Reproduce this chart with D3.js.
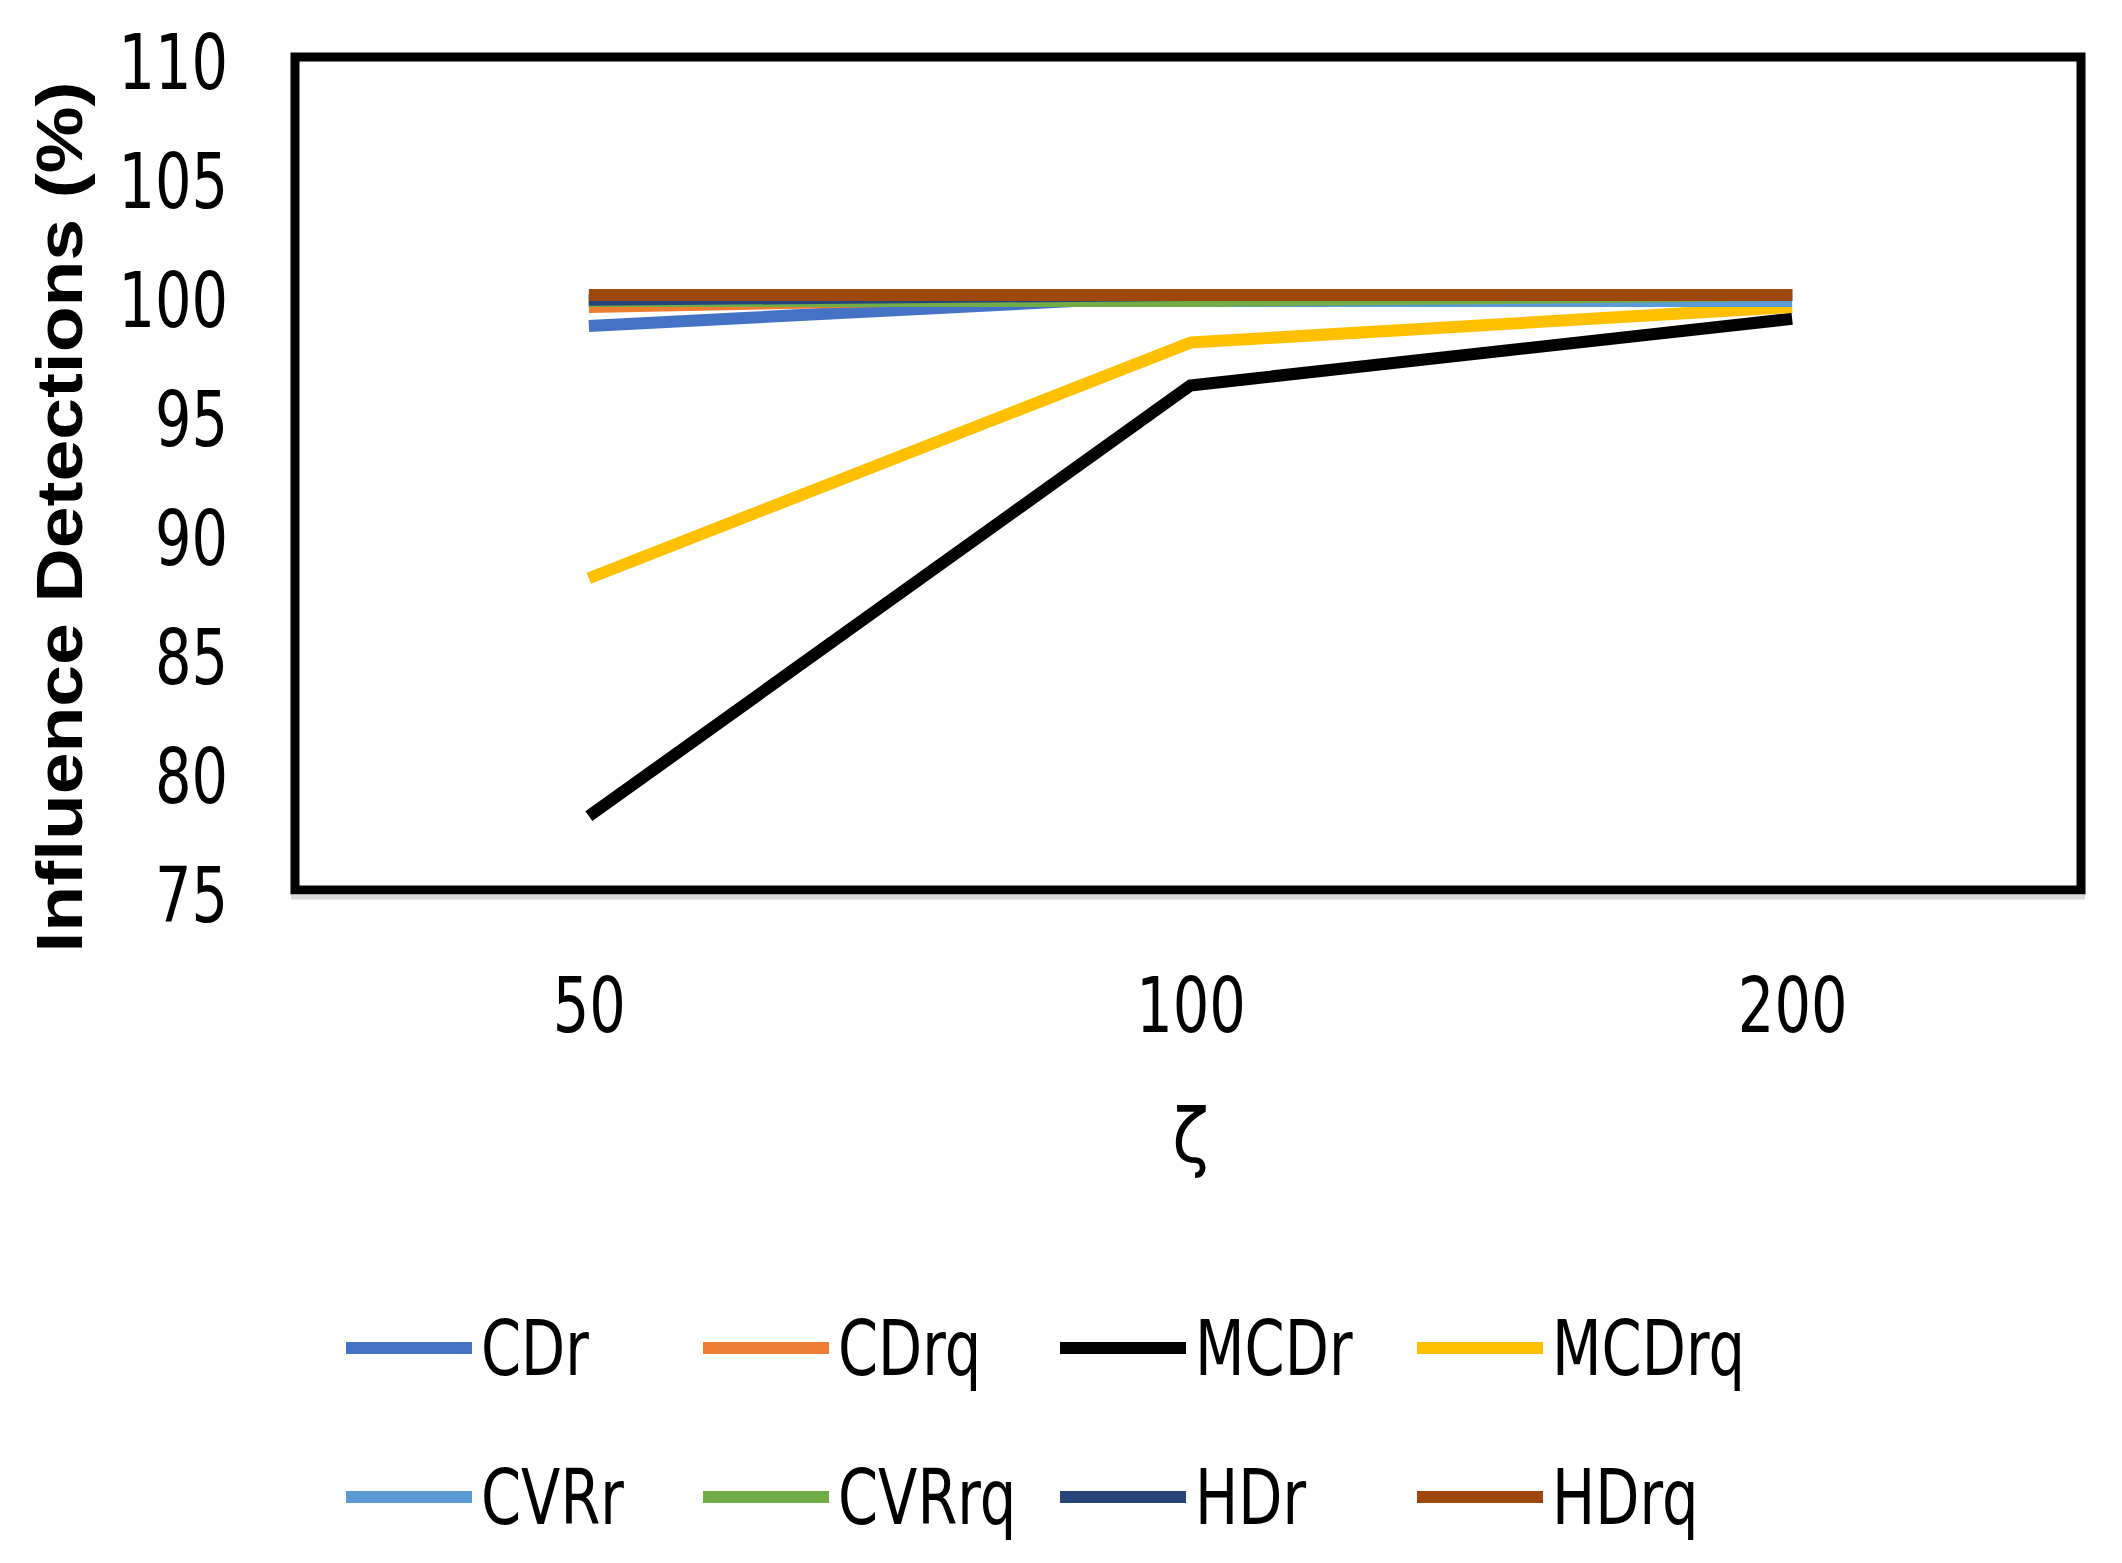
<!DOCTYPE html>
<html>
<head>
<meta charset="utf-8">
<title>Influence Detections</title>
<script src="https://d3js.org/d3.v7.min.js"></script>
<style>
    body { margin: 0; background: #fff; }
    .tick text, .legend text, .xtitle {
        font-family: "Liberation Sans Narrow", "DejaVu Sans Condensed", "Liberation Sans", sans-serif;
        fill: #000;
    }
    .ytitle {
        font-family: "Liberation Sans", Arial, sans-serif;
        font-weight: bold;
        fill: #000;
    }
    .line { fill: none; stroke-linecap: butt; stroke-linejoin: round; }
</style>
</head>
<body>
<script>
    var width = 2122, height = 1563;

    // data
    var categories = ["50", "100", "200"];
    var seriesNames = ["CDr", "CDrq", "MCDr", "MCDrq", "CVRr", "CVRrq", "HDr", "HDrq"];
    var CDr   = [98.7, 100, 100];
    var CDrq  = [99.5, 100, 100];
    var MCDr  = [78.1, 96.2, 99.0];
    var MCDrq = [88.1, 98.0, 99.5];
    var CVRr  = [99.75, 99.75, 99.75];
    var CVRrq = [99.75, 99.75, 100];
    var HDr   = [99.8, 100, 100];
    var HDrq  = [100, 100, 100];
    var yTicks = [75, 80, 85, 90, 95, 100, 105, 110];

    var seriesValues = [CDr, CDrq, MCDr, MCDrq, CVRr, CVRrq, HDr, HDrq];
    var colors = ["#4472C4", "#ED7D31", "#000000", "#FFC000", "#5B9BD5", "#70AD47", "#264478", "#9E480E"];

    var plot = { left: 295, right: 2081, top: 57, bottom: 890 };
    var narrow = 0.84;   // the picture's text is squeezed sideways

    var svg = d3.select("body").append("svg")
        .attr("width", width)
        .attr("height", height);

    var x = d3.scalePoint()
        .domain(categories)
        .range([288, 2093])
        .padding(0.5);

    var y = d3.scaleLinear()
        .domain([75, 110])
        .range([plot.bottom, plot.top]);

    function squeeze(sel) {
        sel.each(function() {
            var w = this.getComputedTextLength();
            d3.select(this)
                .attr("textLength", w * narrow)
                .attr("lengthAdjust", "spacingAndGlyphs");
        });
    }

    // series lines
    var line = d3.line()
        .x(function(d, i) { return x(categories[i]); })
        .y(function(d) { return y(d); });

    svg.selectAll(".line")
        .data(seriesValues)
        .enter().append("path")
        .attr("class", "line")
        .attr("d", line)
        .attr("stroke", function(d, i) { return colors[i]; })
        .attr("stroke-width", 12);

    // frame round the plot
    svg.append("rect")
        .attr("x", plot.left)
        .attr("y", y(110))
        .attr("width", plot.right - plot.left)
        .attr("height", y(75) - y(110))
        .attr("fill", "none")
        .attr("stroke", "#000")
        .attr("stroke-width", 9);
    svg.append("line")
        .attr("x1", plot.left - 4).attr("x2", plot.right + 4)
        .attr("y1", plot.bottom + 7).attr("y2", plot.bottom + 7)
        .attr("stroke", "#d9d9d9").attr("stroke-width", 5);

    // y axis
    var yAxis = svg.append("g")
        .attr("transform", "translate(" + plot.left + ",0)")
        .call(d3.axisLeft(y).tickValues(yTicks).tickSize(0).tickPadding(67));
    yAxis.select(".domain").remove();
    yAxis.selectAll("text")
        .attr("dy", "0.42em")
        .style("font-size", "76px")
        .call(squeeze);

    // x axis
    var xAxis = svg.append("g")
        .attr("transform", "translate(0," + plot.bottom + ")")
        .call(d3.axisBottom(x).tickSize(0).tickPadding(88));
    xAxis.select(".domain").remove();
    xAxis.selectAll("text")
        .style("font-size", "76px")
        .call(squeeze);

    // axis titles
    svg.append("text")
        .attr("class", "ytitle")
        .attr("transform", "translate(82,517) rotate(-90)")
        .attr("text-anchor", "middle")
        .attr("textLength", 871)
        .attr("lengthAdjust", "spacingAndGlyphs")
        .style("font-size", "64px")
        .text("Influence Detections (%)");

    svg.append("text")
        .attr("class", "xtitle")
        .attr("x", x("100"))
        .attr("y", 1162)
        .attr("text-anchor", "middle")
        .style("font-size", "75px")
        .text("ζ");

    // legend, two rows of four
    var legend = svg.append("g").attr("class", "legend");
    var item = legend.selectAll("g")
        .data(seriesNames)
        .enter().append("g")
        .attr("transform", function(d, i) {
            return "translate(" + (346 + (i % 4) * 357) + "," + (i < 4 ? 1348 : 1497) + ")";
        });
    item.append("line")
        .attr("x1", 0).attr("x2", 126)
        .attr("stroke", function(d, i) { return colors[i]; })
        .attr("stroke-width", 12);
    item.append("text")
        .attr("x", 135)
        .attr("dy", "0.36em")
        .style("font-size", "76px")
        .text(function(d) { return d; })
        .call(squeeze);
</script>
</body>
</html>
